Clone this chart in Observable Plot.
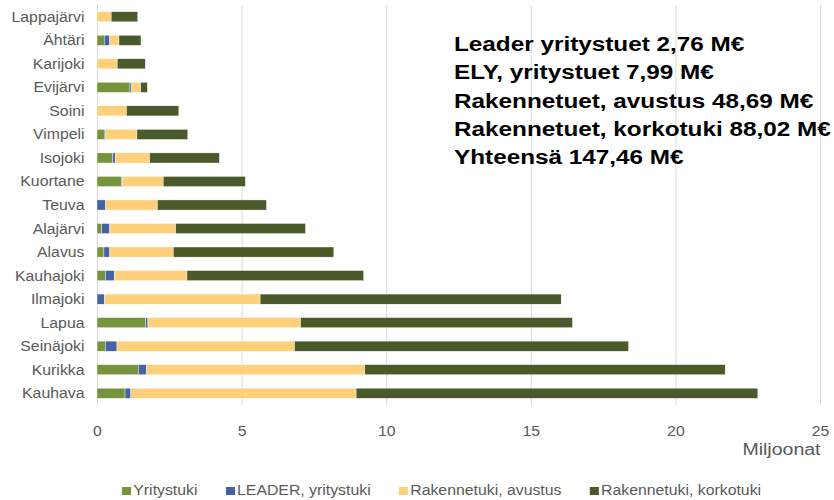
<!DOCTYPE html>
<html>
<head>
<meta charset="utf-8">
<script src="https://cdn.jsdelivr.net/npm/d3@7"></script>
<script src="https://cdn.jsdelivr.net/npm/@observablehq/plot@0.6"></script>
<style>
  body { margin: 0; background: #fff; font-family: "Liberation Sans", Arial, sans-serif; }
  #wrap { position: relative; width: 834px; height: 500px; overflow: hidden; }
  #note { position: absolute; left: 454px; top: 30px; font-weight: bold; font-size: 20px; line-height: 28.3px; color: #000; white-space: nowrap; transform: scaleX(1.215); transform-origin: left top; }
  #legend { position: absolute; left: 121.7px; top: 482px; display: flex; align-items: center; font-size: 14px; color: #595959; white-space: nowrap; transform: scaleX(1.13); transform-origin: left center; }
  #legend span.item { display: inline-flex; align-items: center; margin-right: 25px; }
  #legend span.sw { width: 8px; height: 8px; display: inline-block; margin-right: 2px; margin-top: 2px; }
</style>
</head>
<body>
<div id="wrap">
  <div id="chart"></div>
  <div id="note"></div>
  <div id="legend"></div>
</div>
<script>
const municipalities = ["Lappajärvi","Ähtäri","Karijoki","Evijärvi","Soini","Vimpeli","Isojoki","Kuortane","Teuva","Alajärvi","Alavus","Kauhajoki","Ilmajoki","Lapua","Seinäjoki","Kurikka","Kauhava"];
const seriesNames = ["Yritystuki","LEADER, yritystuki","Rakennetuki, avustus","Rakennetuki, korkotuki"];
const seriesColors = ["#77933c","#4462a8","#ffcf7a","#4a5a2b"];
const yritystuki =  [0,    0.25, 0,    1.14, 0,    0.25, 0.55, 0.86, 0,    0.16, 0.24, 0.29, 0,     1.68, 0.29,  1.43,  0.97];
const leader =      [0,    0.19, 0,    0.06, 0,    0.05, 0.08, 0.02, 0.30, 0.28, 0.20, 0.31, 0.26,  0.08, 0.40,  0.28,  0.20];
const avustus =     [0.49, 0.32, 0.70, 0.31, 1.02, 1.08, 1.19, 1.41, 1.79, 2.28, 2.20, 2.51, 5.38,  5.28, 6.14,  7.55,  7.79];
const korkotuki =   [0.92, 0.76, 0.97, 0.23, 1.81, 1.76, 2.41, 2.84, 3.77, 4.49, 5.55, 6.11, 10.41, 9.40, 11.55, 12.46, 13.89];
const xTicks = [0, 5, 10, 15, 20, 25];
const xUnitLabel = "Miljoonat";
const noteLines = ["Leader yritystuet 2,76 M€","ELY, yritystuet 7,99 M€","Rakennetuet, avustus 48,69 M€","Rakennetuet, korkotuki 88,02 M€","Yhteensä 147,46 M€"];

const seriesValues = [yritystuki, leader, avustus, korkotuki];
const rows = [];
seriesNames.forEach((s, si) => {
  municipalities.forEach((m, mi) => rows.push({kunta: m, sarja: s, arvo: seriesValues[si][mi]}));
});

const chart = Plot.plot({
  width: 834,
  height: 470,
  marginLeft: 97,
  marginRight: 14,
  marginTop: 5,
  marginBottom: 65,
  style: { fontFamily: "'Liberation Sans', Arial, sans-serif", fontSize: "14px", color: "#595959", background: "#fff" },
  x: { domain: [0, 25], ticks: xTicks, tickSize: 0, tickPadding: 21, label: null, grid: false },
  y: { domain: municipalities, label: null, tickSize: 0, tickPadding: 13, paddingInner: 0.57, paddingOuter: 0.285, round: false },
  color: { domain: seriesNames, range: seriesColors },
  marks: [
    Plot.gridX(xTicks, { stroke: "#d9d9d9", strokeOpacity: 1, strokeWidth: 1 }),
    Plot.barX(rows, Plot.stackX({ x: "arvo", y: "kunta", fill: "sarja", order: seriesNames, stroke: "#fff", strokeWidth: 0.4 })),
    Plot.text([xUnitLabel], { text: d => d, frameAnchor: "bottom-right", textAnchor: "end", lineAnchor: "middle", dy: 44, fontSize: 16, fill: "#595959" })
  ]
});
document.getElementById("chart").appendChild(chart);

function stretchEl(t, f) {
  const w = t.getComputedTextLength();
  if (w > 0) { t.setAttribute("textLength", w * f); t.setAttribute("lengthAdjust", "spacingAndGlyphs"); }
}
chart.querySelectorAll('g[aria-label="y-axis tick label"] text').forEach(t => stretchEl(t, 1.13));
chart.querySelectorAll('g[aria-label="x-axis tick label"] text').forEach(t => stretchEl(t, 1.13));
chart.querySelectorAll('text').forEach(t => {
  if (t.textContent === xUnitLabel) {
    t.setAttribute("font-size", "16");
    t.style.fontSize = "16px";
    stretchEl(t, 1.22);
  }
});

document.getElementById("note").innerHTML = noteLines.map(l => `<div>${l}</div>`).join("");
document.getElementById("legend").innerHTML = seriesNames.map((s, i) =>
  `<span class="item"><span class="sw" style="background:${seriesColors[i]}"></span>${s}</span>`).join("");
</script>
</body>
</html>
